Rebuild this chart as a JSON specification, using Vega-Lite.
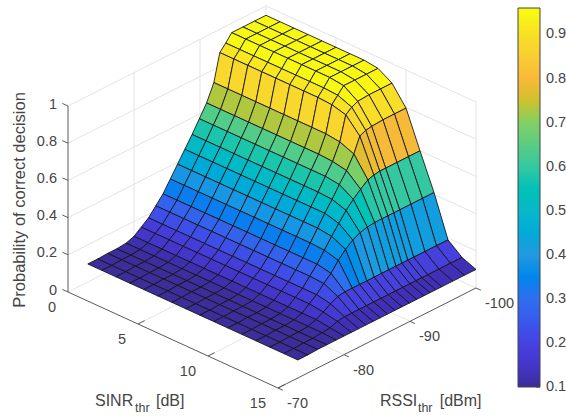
{"$schema":"https://vega.github.io/schema/vega-lite/v6.json","width":566,"height":416,"padding":0,"autosize":{"type":"fit","contains":"padding"},"background":"white","config":{"view":{"stroke":null}},
"datasets":{
"lines":[
{"k":"g","s1":0,"r1":-70,"z1":0.2,"s2":0,"r2":-100,"z2":0.2},{"k":"g","s1":0,"r1":-70,"z1":0.4,"s2":0,"r2":-100,"z2":0.4},{"k":"g","s1":0,"r1":-70,"z1":0.6,"s2":0,"r2":-100,"z2":0.6},{"k":"g","s1":0,"r1":-70,"z1":0.8,"s2":0,"r2":-100,"z2":0.8},{"k":"g","s1":0,"r1":-70,"z1":1,"s2":0,"r2":-100,"z2":1},{"k":"g","s1":0,"r1":-70,"z1":0,"s2":0,"r2":-100,"z2":0},
{"k":"g","s1":0,"r1":-80,"z1":0,"s2":0,"r2":-80,"z2":1},{"k":"g","s1":0,"r1":-90,"z1":0,"s2":0,"r2":-90,"z2":1},{"k":"g","s1":0,"r1":-100,"z1":0,"s2":0,"r2":-100,"z2":1},
{"k":"g","s1":0,"r1":-100,"z1":0.2,"s2":15,"r2":-100,"z2":0.2},{"k":"g","s1":0,"r1":-100,"z1":0.4,"s2":15,"r2":-100,"z2":0.4},{"k":"g","s1":0,"r1":-100,"z1":0.6,"s2":15,"r2":-100,"z2":0.6},{"k":"g","s1":0,"r1":-100,"z1":0.8,"s2":15,"r2":-100,"z2":0.8},{"k":"g","s1":0,"r1":-100,"z1":1,"s2":15,"r2":-100,"z2":1},{"k":"g","s1":0,"r1":-100,"z1":0,"s2":15,"r2":-100,"z2":0},
{"k":"g","s1":5,"r1":-100,"z1":0,"s2":5,"r2":-100,"z2":1},{"k":"g","s1":10,"r1":-100,"z1":0,"s2":10,"r2":-100,"z2":1},{"k":"g","s1":15,"r1":-100,"z1":0,"s2":15,"r2":-100,"z2":1},
{"k":"g","s1":5,"r1":-70,"z1":0,"s2":5,"r2":-100,"z2":0},{"k":"g","s1":10,"r1":-70,"z1":0,"s2":10,"r2":-100,"z2":0},{"k":"g","s1":0,"r1":-80,"z1":0,"s2":15,"r2":-80,"z2":0},{"k":"g","s1":0,"r1":-90,"z1":0,"s2":15,"r2":-90,"z2":0},
{"k":"a","s1":0,"r1":-70,"z1":0,"s2":0,"r2":-70,"z2":1},{"k":"a","s1":0,"r1":-70,"z1":0,"s2":15,"r2":-70,"z2":0},{"k":"a","s1":15,"r1":-70,"z1":0,"s2":15,"r2":-100,"z2":0},
{"k":"a","s1":0,"r1":-70,"z1":0,"s2":-0.4,"r2":-70,"z2":0},{"k":"a","s1":0,"r1":-70,"z1":0.2,"s2":-0.4,"r2":-70,"z2":0.2},{"k":"a","s1":0,"r1":-70,"z1":0.4,"s2":-0.4,"r2":-70,"z2":0.4},{"k":"a","s1":0,"r1":-70,"z1":0.6,"s2":-0.4,"r2":-70,"z2":0.6},{"k":"a","s1":0,"r1":-70,"z1":0.8,"s2":-0.4,"r2":-70,"z2":0.8},{"k":"a","s1":0,"r1":-70,"z1":1,"s2":-0.4,"r2":-70,"z2":1},
{"k":"a","s1":5,"r1":-70,"z1":0,"s2":5,"r2":-71,"z2":0},{"k":"a","s1":10,"r1":-70,"z1":0,"s2":10,"r2":-71,"z2":0},{"k":"a","s1":15,"r1":-70,"z1":0,"s2":15,"r2":-71,"z2":0},
{"k":"a","s1":15,"r1":-70,"z1":0,"s2":15.35,"r2":-70,"z2":0},{"k":"a","s1":15,"r1":-80,"z1":0,"s2":15.35,"r2":-80,"z2":0},{"k":"a","s1":15,"r1":-90,"z1":0,"s2":15.35,"r2":-90,"z2":0},{"k":"a","s1":15,"r1":-100,"z1":0,"s2":15.35,"r2":-100,"z2":0}
],
"t":[
{"k":"z","t":"0","s":0,"r":-70,"z":0},{"k":"z","t":"0.2","s":0,"r":-70,"z":0.2},{"k":"z","t":"0.4","s":0,"r":-70,"z":0.4},{"k":"z","t":"0.6","s":0,"r":-70,"z":0.6},{"k":"z","t":"0.8","s":0,"r":-70,"z":0.8},{"k":"z","t":"1","s":0,"r":-70,"z":1},
{"k":"s","t":"0","s":0,"r":-70,"z":0},{"k":"s","t":"5","s":5,"r":-70,"z":0},{"k":"s","t":"10","s":10,"r":-70,"z":0},{"k":"s","t":"15","s":15,"r":-70,"z":0},
{"k":"r","t":"-70","s":15,"r":-70,"z":0},{"k":"r","t":"-80","s":15,"r":-80,"z":0},{"k":"r","t":"-90","s":15,"r":-90,"z":0},{"k":"r","t":"-100","s":15,"r":-100,"z":0},
{"k":"m","t":"SINR","s":1.929,"r":-70,"z":-0.514},{"k":"m","t":"[dB]","s":6.286,"r":-70,"z":-0.3645},{"k":"m","t":"RSSI","s":15,"r":-85.45,"z":-0.341},{"k":"m","t":"[dBm]","s":15,"r":-94.5,"z":-0.504},
{"k":"u","t":"thr","s":4.786,"r":-70,"z":-0.459},{"k":"u","t":"thr","s":15,"r":-91.2,"z":-0.488},
{"k":"y","t":"Probability of correct decision","s":-3.43,"r":-70,"z":0.377}
],
"cb":[{"v":0.1},{"v":0.2},{"v":0.3},{"v":0.4},{"v":0.5},{"v":0.6},{"v":0.7},{"v":0.8},{"v":0.9}],
"v":[
{"s":0,"r":-100,"p":0.95},{"s":0,"r":-98.25,"p":0.95},{"s":0,"r":-96.5,"p":0.95},{"s":0,"r":-94.8,"p":0.95},{"s":0,"r":-93.9,"p":0.91},{"s":0,"r":-93,"p":0.875},{"s":0,"r":-92.1,"p":0.73},{"s":0,"r":-91,"p":0.64},{"s":0,"r":-89.9,"p":0.575},{"s":0,"r":-88.8,"p":0.51},{"s":0,"r":-87.7,"p":0.45},{"s":0,"r":-86.6,"p":0.39},{"s":0,"r":-85.5,"p":0.33},{"s":0,"r":-84.4,"p":0.27},{"s":0,"r":-83.3,"p":0.225},{"s":0,"r":-82.2,"p":0.18},{"s":0,"r":-81.1,"p":0.15},{"s":0,"r":-80,"p":0.12},{"s":0,"r":-78.8,"p":0.105},{"s":0,"r":-77.4,"p":0.1},{"s":0,"r":-76,"p":0.1},{"s":0,"r":-74.5,"p":0.097},{"s":0,"r":-73,"p":0.097},
{"s":1,"r":-100,"p":0.95},{"s":1,"r":-98.25,"p":0.95},{"s":1,"r":-96.5,"p":0.95},{"s":1,"r":-94.8,"p":0.95},{"s":1,"r":-93.9,"p":0.91},{"s":1,"r":-93,"p":0.875},{"s":1,"r":-92.1,"p":0.73},{"s":1,"r":-91,"p":0.64},{"s":1,"r":-89.9,"p":0.575},{"s":1,"r":-88.8,"p":0.51},{"s":1,"r":-87.7,"p":0.45},{"s":1,"r":-86.6,"p":0.39},{"s":1,"r":-85.5,"p":0.33},{"s":1,"r":-84.4,"p":0.27},{"s":1,"r":-83.3,"p":0.225},{"s":1,"r":-82.2,"p":0.18},{"s":1,"r":-81.1,"p":0.15},{"s":1,"r":-80,"p":0.12},{"s":1,"r":-78.8,"p":0.105},{"s":1,"r":-77.4,"p":0.1},{"s":1,"r":-76,"p":0.1},{"s":1,"r":-74.5,"p":0.097},{"s":1,"r":-73,"p":0.097},
{"s":2,"r":-100,"p":0.95},{"s":2,"r":-98.25,"p":0.95},{"s":2,"r":-96.5,"p":0.95},{"s":2,"r":-94.8,"p":0.95},{"s":2,"r":-93.9,"p":0.91},{"s":2,"r":-93,"p":0.875},{"s":2,"r":-92.1,"p":0.73},{"s":2,"r":-91,"p":0.64},{"s":2,"r":-89.9,"p":0.575},{"s":2,"r":-88.8,"p":0.51},{"s":2,"r":-87.7,"p":0.45},{"s":2,"r":-86.6,"p":0.39},{"s":2,"r":-85.5,"p":0.33},{"s":2,"r":-84.4,"p":0.27},{"s":2,"r":-83.3,"p":0.225},{"s":2,"r":-82.2,"p":0.18},{"s":2,"r":-81.1,"p":0.15},{"s":2,"r":-80,"p":0.12},{"s":2,"r":-78.8,"p":0.105},{"s":2,"r":-77.4,"p":0.1},{"s":2,"r":-76,"p":0.1},{"s":2,"r":-74.5,"p":0.097},{"s":2,"r":-73,"p":0.097},
{"s":3,"r":-100,"p":0.95},{"s":3,"r":-98.25,"p":0.95},{"s":3,"r":-96.5,"p":0.95},{"s":3,"r":-94.8,"p":0.95},{"s":3,"r":-93.9,"p":0.91},{"s":3,"r":-93,"p":0.875},{"s":3,"r":-92.1,"p":0.73},{"s":3,"r":-91,"p":0.64},{"s":3,"r":-89.9,"p":0.575},{"s":3,"r":-88.8,"p":0.51},{"s":3,"r":-87.7,"p":0.45},{"s":3,"r":-86.6,"p":0.39},{"s":3,"r":-85.5,"p":0.33},{"s":3,"r":-84.4,"p":0.27},{"s":3,"r":-83.3,"p":0.225},{"s":3,"r":-82.2,"p":0.18},{"s":3,"r":-81.1,"p":0.15},{"s":3,"r":-80,"p":0.12},{"s":3,"r":-78.8,"p":0.105},{"s":3,"r":-77.4,"p":0.1},{"s":3,"r":-76,"p":0.1},{"s":3,"r":-74.5,"p":0.097},{"s":3,"r":-73,"p":0.097},
{"s":4,"r":-100,"p":0.95},{"s":4,"r":-98.25,"p":0.95},{"s":4,"r":-96.5,"p":0.95},{"s":4,"r":-94.8,"p":0.95},{"s":4,"r":-93.9,"p":0.91},{"s":4,"r":-93,"p":0.875},{"s":4,"r":-92.1,"p":0.73},{"s":4,"r":-91,"p":0.64},{"s":4,"r":-89.9,"p":0.575},{"s":4,"r":-88.8,"p":0.51},{"s":4,"r":-87.7,"p":0.45},{"s":4,"r":-86.6,"p":0.39},{"s":4,"r":-85.5,"p":0.33},{"s":4,"r":-84.4,"p":0.27},{"s":4,"r":-83.3,"p":0.225},{"s":4,"r":-82.2,"p":0.18},{"s":4,"r":-81.1,"p":0.15},{"s":4,"r":-80,"p":0.12},{"s":4,"r":-78.8,"p":0.105},{"s":4,"r":-77.4,"p":0.1},{"s":4,"r":-76,"p":0.1},{"s":4,"r":-74.5,"p":0.097},{"s":4,"r":-73,"p":0.097},
{"s":5,"r":-100,"p":0.95},{"s":5,"r":-98.25,"p":0.95},{"s":5,"r":-96.5,"p":0.95},{"s":5,"r":-94.8,"p":0.95},{"s":5,"r":-93.9,"p":0.91},{"s":5,"r":-93,"p":0.875},{"s":5,"r":-92.1,"p":0.73},{"s":5,"r":-91,"p":0.64},{"s":5,"r":-89.9,"p":0.575},{"s":5,"r":-88.8,"p":0.51},{"s":5,"r":-87.7,"p":0.45},{"s":5,"r":-86.6,"p":0.39},{"s":5,"r":-85.5,"p":0.33},{"s":5,"r":-84.4,"p":0.27},{"s":5,"r":-83.3,"p":0.225},{"s":5,"r":-82.2,"p":0.18},{"s":5,"r":-81.1,"p":0.15},{"s":5,"r":-80,"p":0.12},{"s":5,"r":-78.8,"p":0.105},{"s":5,"r":-77.4,"p":0.1},{"s":5,"r":-76,"p":0.1},{"s":5,"r":-74.5,"p":0.097},{"s":5,"r":-73,"p":0.097},
{"s":6,"r":-100,"p":0.95},{"s":6,"r":-98.25,"p":0.95},{"s":6,"r":-96.5,"p":0.95},{"s":6,"r":-94.8,"p":0.95},{"s":6,"r":-93.9,"p":0.91},{"s":6,"r":-93,"p":0.875},{"s":6,"r":-92.1,"p":0.73},{"s":6,"r":-91,"p":0.64},{"s":6,"r":-89.9,"p":0.575},{"s":6,"r":-88.8,"p":0.51},{"s":6,"r":-87.7,"p":0.45},{"s":6,"r":-86.6,"p":0.39},{"s":6,"r":-85.5,"p":0.33},{"s":6,"r":-84.4,"p":0.27},{"s":6,"r":-83.3,"p":0.225},{"s":6,"r":-82.2,"p":0.18},{"s":6,"r":-81.1,"p":0.15},{"s":6,"r":-80,"p":0.12},{"s":6,"r":-78.8,"p":0.105},{"s":6,"r":-77.4,"p":0.1},{"s":6,"r":-76,"p":0.1},{"s":6,"r":-74.5,"p":0.097},{"s":6,"r":-73,"p":0.097},
{"s":7,"r":-100,"p":0.95},{"s":7,"r":-98.25,"p":0.95},{"s":7,"r":-96.5,"p":0.95},{"s":7,"r":-94.8,"p":0.95},{"s":7,"r":-93.9,"p":0.91},{"s":7,"r":-93,"p":0.875},{"s":7,"r":-92.1,"p":0.73},{"s":7,"r":-91,"p":0.64},{"s":7,"r":-89.9,"p":0.575},{"s":7,"r":-88.8,"p":0.51},{"s":7,"r":-87.7,"p":0.45},{"s":7,"r":-86.6,"p":0.39},{"s":7,"r":-85.5,"p":0.33},{"s":7,"r":-84.4,"p":0.27},{"s":7,"r":-83.3,"p":0.225},{"s":7,"r":-82.2,"p":0.18},{"s":7,"r":-81.1,"p":0.15},{"s":7,"r":-80,"p":0.12},{"s":7,"r":-78.8,"p":0.105},{"s":7,"r":-77.4,"p":0.1},{"s":7,"r":-76,"p":0.1},{"s":7,"r":-74.5,"p":0.097},{"s":7,"r":-73,"p":0.097},
{"s":8,"r":-100,"p":0.94},{"s":8,"r":-98.25,"p":0.94},{"s":8,"r":-96.5,"p":0.94},{"s":8,"r":-94.8,"p":0.94},{"s":8,"r":-93.9,"p":0.905},{"s":8,"r":-93,"p":0.87},{"s":8,"r":-92.1,"p":0.73},{"s":8,"r":-91,"p":0.64},{"s":8,"r":-89.9,"p":0.575},{"s":8,"r":-88.8,"p":0.51},{"s":8,"r":-87.7,"p":0.45},{"s":8,"r":-86.6,"p":0.39},{"s":8,"r":-85.5,"p":0.33},{"s":8,"r":-84.4,"p":0.27},{"s":8,"r":-83.3,"p":0.225},{"s":8,"r":-82.2,"p":0.18},{"s":8,"r":-81.1,"p":0.15},{"s":8,"r":-80,"p":0.12},{"s":8,"r":-78.8,"p":0.105},{"s":8,"r":-77.4,"p":0.1},{"s":8,"r":-76,"p":0.1},{"s":8,"r":-74.5,"p":0.097},{"s":8,"r":-73,"p":0.097},
{"s":9,"r":-100,"p":0.895},{"s":9,"r":-98.25,"p":0.895},{"s":9,"r":-96.5,"p":0.895},{"s":9,"r":-94.8,"p":0.89},{"s":9,"r":-93.9,"p":0.875},{"s":9,"r":-93,"p":0.85},{"s":9,"r":-92.1,"p":0.72},{"s":9,"r":-91,"p":0.635},{"s":9,"r":-89.9,"p":0.575},{"s":9,"r":-88.8,"p":0.51},{"s":9,"r":-87.7,"p":0.45},{"s":9,"r":-86.6,"p":0.39},{"s":9,"r":-85.5,"p":0.33},{"s":9,"r":-84.4,"p":0.27},{"s":9,"r":-83.3,"p":0.225},{"s":9,"r":-82.2,"p":0.18},{"s":9,"r":-81.1,"p":0.15},{"s":9,"r":-80,"p":0.12},{"s":9,"r":-78.8,"p":0.105},{"s":9,"r":-77.4,"p":0.1},{"s":9,"r":-76,"p":0.1},{"s":9,"r":-74.5,"p":0.097},{"s":9,"r":-73,"p":0.097},
{"s":10,"r":-100,"p":0.795},{"s":10,"r":-98.25,"p":0.795},{"s":10,"r":-96.5,"p":0.795},{"s":10,"r":-94.8,"p":0.79},{"s":10,"r":-93.9,"p":0.785},{"s":10,"r":-93,"p":0.77},{"s":10,"r":-92.1,"p":0.69},{"s":10,"r":-91,"p":0.62},{"s":10,"r":-89.9,"p":0.565},{"s":10,"r":-88.8,"p":0.505},{"s":10,"r":-87.7,"p":0.45},{"s":10,"r":-86.6,"p":0.39},{"s":10,"r":-85.5,"p":0.33},{"s":10,"r":-84.4,"p":0.27},{"s":10,"r":-83.3,"p":0.225},{"s":10,"r":-82.2,"p":0.18},{"s":10,"r":-81.1,"p":0.15},{"s":10,"r":-80,"p":0.12},{"s":10,"r":-78.8,"p":0.105},{"s":10,"r":-77.4,"p":0.1},{"s":10,"r":-76,"p":0.1},{"s":10,"r":-74.5,"p":0.097},{"s":10,"r":-73,"p":0.097},
{"s":11,"r":-100,"p":0.6},{"s":11,"r":-98.25,"p":0.6},{"s":11,"r":-96.5,"p":0.6},{"s":11,"r":-94.8,"p":0.6},{"s":11,"r":-93.9,"p":0.6},{"s":11,"r":-93,"p":0.595},{"s":11,"r":-92.1,"p":0.585},{"s":11,"r":-91,"p":0.555},{"s":11,"r":-89.9,"p":0.52},{"s":11,"r":-88.8,"p":0.48},{"s":11,"r":-87.7,"p":0.43},{"s":11,"r":-86.6,"p":0.38},{"s":11,"r":-85.5,"p":0.325},{"s":11,"r":-84.4,"p":0.27},{"s":11,"r":-83.3,"p":0.225},{"s":11,"r":-82.2,"p":0.18},{"s":11,"r":-81.1,"p":0.15},{"s":11,"r":-80,"p":0.12},{"s":11,"r":-78.8,"p":0.105},{"s":11,"r":-77.4,"p":0.1},{"s":11,"r":-76,"p":0.1},{"s":11,"r":-74.5,"p":0.097},{"s":11,"r":-73,"p":0.097},
{"s":12,"r":-100,"p":0.41},{"s":12,"r":-98.25,"p":0.41},{"s":12,"r":-96.5,"p":0.41},{"s":12,"r":-94.8,"p":0.41},{"s":12,"r":-93.9,"p":0.41},{"s":12,"r":-93,"p":0.41},{"s":12,"r":-92.1,"p":0.41},{"s":12,"r":-91,"p":0.41},{"s":12,"r":-89.9,"p":0.405},{"s":12,"r":-88.8,"p":0.395},{"s":12,"r":-87.7,"p":0.375},{"s":12,"r":-86.6,"p":0.345},{"s":12,"r":-85.5,"p":0.305},{"s":12,"r":-84.4,"p":0.255},{"s":12,"r":-83.3,"p":0.22},{"s":12,"r":-82.2,"p":0.18},{"s":12,"r":-81.1,"p":0.15},{"s":12,"r":-80,"p":0.12},{"s":12,"r":-78.8,"p":0.105},{"s":12,"r":-77.4,"p":0.1},{"s":12,"r":-76,"p":0.1},{"s":12,"r":-74.5,"p":0.097},{"s":12,"r":-73,"p":0.097},
{"s":13,"r":-100,"p":0.19},{"s":13,"r":-98.25,"p":0.19},{"s":13,"r":-96.5,"p":0.19},{"s":13,"r":-94.8,"p":0.19},{"s":13,"r":-93.9,"p":0.19},{"s":13,"r":-93,"p":0.19},{"s":13,"r":-92.1,"p":0.19},{"s":13,"r":-91,"p":0.19},{"s":13,"r":-89.9,"p":0.19},{"s":13,"r":-88.8,"p":0.19},{"s":13,"r":-87.7,"p":0.19},{"s":13,"r":-86.6,"p":0.19},{"s":13,"r":-85.5,"p":0.19},{"s":13,"r":-84.4,"p":0.19},{"s":13,"r":-83.3,"p":0.185},{"s":13,"r":-82.2,"p":0.165},{"s":13,"r":-81.1,"p":0.14},{"s":13,"r":-80,"p":0.12},{"s":13,"r":-78.8,"p":0.105},{"s":13,"r":-77.4,"p":0.1},{"s":13,"r":-76,"p":0.1},{"s":13,"r":-74.5,"p":0.097},{"s":13,"r":-73,"p":0.097},
{"s":14,"r":-100,"p":0.13},{"s":14,"r":-98.25,"p":0.13},{"s":14,"r":-96.5,"p":0.13},{"s":14,"r":-94.8,"p":0.13},{"s":14,"r":-93.9,"p":0.13},{"s":14,"r":-93,"p":0.13},{"s":14,"r":-92.1,"p":0.13},{"s":14,"r":-91,"p":0.13},{"s":14,"r":-89.9,"p":0.13},{"s":14,"r":-88.8,"p":0.13},{"s":14,"r":-87.7,"p":0.13},{"s":14,"r":-86.6,"p":0.13},{"s":14,"r":-85.5,"p":0.13},{"s":14,"r":-84.4,"p":0.13},{"s":14,"r":-83.3,"p":0.13},{"s":14,"r":-82.2,"p":0.13},{"s":14,"r":-81.1,"p":0.125},{"s":14,"r":-80,"p":0.11},{"s":14,"r":-78.8,"p":0.105},{"s":14,"r":-77.4,"p":0.1},{"s":14,"r":-76,"p":0.1},{"s":14,"r":-74.5,"p":0.097},{"s":14,"r":-73,"p":0.097},
{"s":15,"r":-100,"p":0.1},{"s":15,"r":-98.25,"p":0.1},{"s":15,"r":-96.5,"p":0.1},{"s":15,"r":-94.8,"p":0.1},{"s":15,"r":-93.9,"p":0.1},{"s":15,"r":-93,"p":0.1},{"s":15,"r":-92.1,"p":0.1},{"s":15,"r":-91,"p":0.1},{"s":15,"r":-89.9,"p":0.1},{"s":15,"r":-88.8,"p":0.1},{"s":15,"r":-87.7,"p":0.1},{"s":15,"r":-86.6,"p":0.1},{"s":15,"r":-85.5,"p":0.1},{"s":15,"r":-84.4,"p":0.1},{"s":15,"r":-83.3,"p":0.1},{"s":15,"r":-82.2,"p":0.1},{"s":15,"r":-81.1,"p":0.1},{"s":15,"r":-80,"p":0.1},{"s":15,"r":-78.8,"p":0.1},{"s":15,"r":-77.4,"p":0.1},{"s":15,"r":-76,"p":0.1},{"s":15,"r":-74.5,"p":0.097},{"s":15,"r":-73,"p":0.097}
]},
"layer":[
{"data":{"name":"lines"},"transform":[{"filter":"datum.k==='g'"},{"calculate":"68+14*datum.s1+6.6*(-70-datum.r1)","as":"x1"},{"calculate":"292+6.4*datum.s1-3.333*(-70-datum.r1)-186*datum.z1","as":"y1"},{"calculate":"68+14*datum.s2+6.6*(-70-datum.r2)","as":"x2"},{"calculate":"292+6.4*datum.s2-3.333*(-70-datum.r2)-186*datum.z2","as":"y2"}],
"mark":{"type":"rule","stroke":"#e3e3e3","strokeWidth":1},
"encoding":{"x":{"field":"x1","type":"quantitative","scale":{"domain":[0,566],"nice":false,"zero":false},"axis":null},"y":{"field":"y1","type":"quantitative","scale":{"domain":[416,0],"nice":false,"zero":false},"axis":null},"x2":{"field":"x2"},"y2":{"field":"y2"}}},
{"data":{"name":"v"},"transform":[
{"window":[{"op":"lead","field":"p","as":"ps"}],"groupby":["r"],"sort":[{"field":"s"}]},
{"window":[{"op":"lead","field":"p","as":"pj"},{"op":"lead","field":"ps","as":"psj"},{"op":"lead","field":"r","as":"rn"}],"groupby":["s"],"sort":[{"field":"r"}]},
{"filter":"isValid(datum.ps)&&isValid(datum.rn)"},
{"calculate":"datum.s*1000+datum.r","as":"cell"},
{"calculate":"datum.p","as":"a"},{"calculate":"datum.ps","as":"b"},{"calculate":"datum.psj","as":"c"},{"calculate":"datum.pj","as":"d"},{"calculate":"datum.p","as":"e"},
{"fold":["a","b","c","d","e"]},
{"calculate":"(datum.key==='b'||datum.key==='c')?datum.s+1:datum.s","as":"cs"},
{"calculate":"(datum.key==='c'||datum.key==='d')?datum.rn:datum.r","as":"cr"},
{"calculate":"68+14*datum.cs+6.6*(-70-datum.cr)","as":"sx"},
{"calculate":"292+6.4*datum.cs-3.333*(-70-datum.cr)-186*datum.value","as":"sy"}],
"mark":{"type":"line","stroke":"#141414","strokeWidth":1,"strokeJoin":"round","strokeOpacity":0.88},
"encoding":{"x":{"field":"sx","type":"quantitative"},"y":{"field":"sy","type":"quantitative"},"detail":{"field":"cell","type":"nominal"},"order":{"field":"key","type":"ordinal"},
"fill":{"field":"p","type":"quantitative","scale":{"domain":[0.0999,0.13,0.15,0.2,0.3,0.4,0.5,0.6,0.7,0.75,0.8,0.87,0.9,0.93,0.96],"range":["#3b2d9a","#4030b8","#4436cb","#4642e2","#2f6ff0","#2399e0","#07b8c9","#35c8a0","#83cf63","#cfc12c","#f9b93a","#f8d62e","#f8e026","#f8f412","#f8fb12"],"clamp":true,"nice":false,"zero":false},
"legend":{"orient":"none","legendX":518,"legendY":8,"direction":"vertical","type":"gradient","gradientLength":379,"gradientThickness":22,"title":null,"values":[0.1,0.2,0.3,0.4,0.5,0.6,0.7,0.8,0.9],"format":".1f","labelFont":"Liberation Sans","labelFontSize":14.5,"labelColor":"#454545","labelOffset":6,"gradientStrokeColor":"#444444","gradientStrokeWidth":1}}}},
{"data":{"name":"lines"},"transform":[{"filter":"datum.k==='a'"},{"calculate":"68+14*datum.s1+6.6*(-70-datum.r1)","as":"x1"},{"calculate":"292+6.4*datum.s1-3.333*(-70-datum.r1)-186*datum.z1","as":"y1"},{"calculate":"68+14*datum.s2+6.6*(-70-datum.r2)","as":"x2"},{"calculate":"292+6.4*datum.s2-3.333*(-70-datum.r2)-186*datum.z2","as":"y2"}],
"mark":{"type":"rule","stroke":"#5a5a5a","strokeWidth":1},
"encoding":{"x":{"field":"x1","type":"quantitative"},"y":{"field":"y1","type":"quantitative"},"x2":{"field":"x2"},"y2":{"field":"y2"}}},
{"data":{"name":"cb"},"transform":[{"calculate":"387-440*(datum.v-0.1)","as":"cy"},{"calculate":"536","as":"cx"},{"calculate":"540","as":"cx2"}],
"mark":{"type":"rule","stroke":"#444444","strokeWidth":1},
"encoding":{"x":{"field":"cx","type":"quantitative"},"x2":{"field":"cx2"},"y":{"field":"cy","type":"quantitative"}}},
{"data":{"name":"t"},"transform":[{"filter":"datum.k==='z'"},{"calculate":"68+14*datum.s+6.6*(-70-datum.r)","as":"tx"},{"calculate":"292+6.4*datum.s-3.333*(-70-datum.r)-186*datum.z","as":"ty"}],
"mark":{"type":"text","font":"Liberation Sans","fontSize":14.5,"color":"#454545","align":"right","baseline":"middle","dx":-11,"dy":-1.5},
"encoding":{"x":{"field":"tx","type":"quantitative"},"y":{"field":"ty","type":"quantitative"},"text":{"field":"t"}}},
{"data":{"name":"t"},"transform":[{"filter":"datum.k==='s'"},{"calculate":"68+14*datum.s+6.6*(-70-datum.r)","as":"tx"},{"calculate":"292+6.4*datum.s-3.333*(-70-datum.r)-186*datum.z","as":"ty"}],
"mark":{"type":"text","font":"Liberation Sans","fontSize":14.5,"color":"#454545","align":"right","baseline":"middle","dx":-12,"dy":16},
"encoding":{"x":{"field":"tx","type":"quantitative"},"y":{"field":"ty","type":"quantitative"},"text":{"field":"t"}}},
{"data":{"name":"t"},"transform":[{"filter":"datum.k==='r'"},{"calculate":"68+14*datum.s+6.6*(-70-datum.r)","as":"tx"},{"calculate":"292+6.4*datum.s-3.333*(-70-datum.r)-186*datum.z","as":"ty"}],
"mark":{"type":"text","font":"Liberation Sans","fontSize":14.5,"color":"#454545","align":"left","baseline":"middle","dx":9,"dy":16},
"encoding":{"x":{"field":"tx","type":"quantitative"},"y":{"field":"ty","type":"quantitative"},"text":{"field":"t"}}},
{"data":{"name":"t"},"transform":[{"filter":"datum.k==='m'"},{"calculate":"68+14*datum.s+6.6*(-70-datum.r)","as":"tx"},{"calculate":"292+6.4*datum.s-3.333*(-70-datum.r)-186*datum.z","as":"ty"}],
"mark":{"type":"text","font":"Liberation Sans","fontSize":16,"color":"#454545","align":"left","baseline":"middle","dy":1},
"encoding":{"x":{"field":"tx","type":"quantitative"},"y":{"field":"ty","type":"quantitative"},"text":{"field":"t"}}},
{"data":{"name":"t"},"transform":[{"filter":"datum.k==='u'"},{"calculate":"68+14*datum.s+6.6*(-70-datum.r)","as":"tx"},{"calculate":"292+6.4*datum.s-3.333*(-70-datum.r)-186*datum.z","as":"ty"}],
"mark":{"type":"text","font":"Liberation Sans","fontSize":12.5,"color":"#454545","align":"left","baseline":"middle"},
"encoding":{"x":{"field":"tx","type":"quantitative"},"y":{"field":"ty","type":"quantitative"},"text":{"field":"t"}}},
{"data":{"name":"t"},"transform":[{"filter":"datum.k==='y'"},{"calculate":"68+14*datum.s+6.6*(-70-datum.r)","as":"tx"},{"calculate":"292+6.4*datum.s-3.333*(-70-datum.r)-186*datum.z","as":"ty"}],
"mark":{"type":"text","font":"Liberation Sans","fontSize":16.5,"color":"#454545","align":"center","baseline":"middle","angle":270},
"encoding":{"x":{"field":"tx","type":"quantitative"},"y":{"field":"ty","type":"quantitative"},"text":{"field":"t"}}}
]}
